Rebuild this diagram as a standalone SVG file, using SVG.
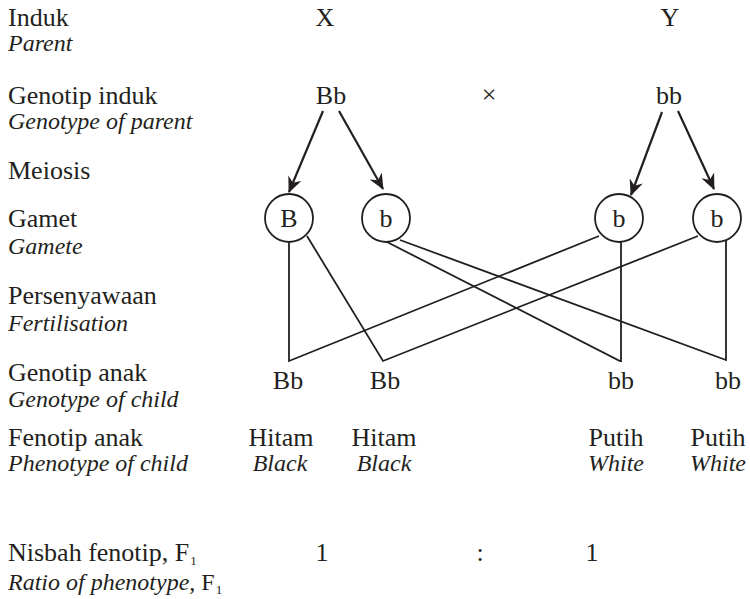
<svg xmlns="http://www.w3.org/2000/svg" width="750" height="599" viewBox="0 0 750 599">
<style>
text{font-family:"Liberation Serif","Times New Roman",serif;fill:#231f20}
.r{font-size:26px}
.i{font-size:24px;font-style:italic}
.c{text-anchor:middle}
.sub{font-size:13px}
.ln{stroke:#231f20;stroke-width:1.8;fill:none}
.ar{stroke:#231f20;stroke-width:2.2;fill:none;marker-end:url(#ah)}
.cir{stroke:#231f20;stroke-width:1.8;fill:#fff}
</style>
<defs>
<marker id="ah" markerUnits="userSpaceOnUse" viewBox="0 0 16 14" markerWidth="16" markerHeight="14" refX="15" refY="7" orient="auto">
<path d="M0,0 L16,7 L0,14 L5,7 z" fill="#231f20"/>
</marker>
</defs>
<rect width="750" height="599" fill="#fff"/>
<g id="labels">
<text class="r" x="8" y="26">Induk</text>
<text class="i" x="8" y="51">Parent</text>
<text class="r" x="8" y="104">Genotip induk</text>
<text class="i" x="8" y="129">Genotype of parent</text>
<text class="r" x="8" y="179">Meiosis</text>
<text class="r" x="8" y="227">Gamet</text>
<text class="i" x="8" y="254">Gamete</text>
<text class="r" x="8" y="304">Persenyawaan</text>
<text class="i" x="8" y="331">Fertilisation</text>
<text class="r" x="8" y="381">Genotip anak</text>
<text class="i" x="8" y="407">Genotype of child</text>
<text class="r" x="8" y="446">Fenotip anak</text>
<text class="i" x="8" y="471">Phenotype of child</text>
<text class="r" x="8" y="561">Nisbah fenotip, F<tspan class="sub" dx="1" dy="4">1</tspan></text>
<text class="i" x="8" y="590">Ratio of phenotype, <tspan font-style="normal">F</tspan><tspan class="sub" font-style="normal" dx="1" dy="4">1</tspan></text>
</g>
<g id="parents">
<text class="r c" x="325" y="26">X</text>
<text class="r c" x="670" y="26">Y</text>
<text class="r c" x="331" y="104">Bb</text>
<text class="r c" x="489" y="103" font-size="20">×</text>
<text class="r c" x="669" y="104">bb</text>
</g>
<g id="connectors">
<line class="ar" x1="323" y1="111" x2="289" y2="192"/>
<line class="ar" x1="339" y1="111" x2="383" y2="189"/>
<line class="ar" x1="662" y1="112" x2="631" y2="195"/>
<line class="ar" x1="678" y1="111" x2="714" y2="189"/>
<polyline class="ln" points="289,243 289,361 599,236"/>
<polyline class="ln" points="307,236 383,361 698,236"/>
<polyline class="ln" points="387,242 620,361 621,361 621,242"/>
<polyline class="ln" points="400,240 726,360 726,240"/>
</g>
<g id="gamete-B1"><circle class="cir" cx="289" cy="218" r="24"/><text class="r c" x="289" y="227">B</text></g>
<g id="gamete-b1"><circle class="cir" cx="386" cy="218" r="24"/><text class="r c" x="386" y="227">b</text></g>
<g id="gamete-b2"><circle class="cir" cx="619" cy="218" r="24"/><text class="r c" x="619" y="227">b</text></g>
<g id="gamete-b3"><circle class="cir" cx="717" cy="218" r="24"/><text class="r c" x="717" y="227">b</text></g>
<g id="children">
<text class="r c" x="288" y="389">Bb</text>
<text class="r c" x="385" y="389">Bb</text>
<text class="r c" x="621" y="389">bb</text>
<text class="r c" x="728" y="389">bb</text>
</g>
<g id="phenotypes">
<text class="r c" x="281" y="446">Hitam</text>
<text class="i c" x="280" y="471">Black</text>
<text class="r c" x="384" y="446">Hitam</text>
<text class="i c" x="384" y="471">Black</text>
<text class="r c" x="616" y="446">Putih</text>
<text class="i c" x="616" y="471">White</text>
<text class="r c" x="718" y="446">Putih</text>
<text class="i c" x="718" y="471">White</text>
</g>
<g id="ratio">
<text class="r c" x="322" y="561">1</text>
<text class="r c" x="480" y="561">:</text>
<text class="r c" x="592" y="561">1</text>
</g>
</svg>
